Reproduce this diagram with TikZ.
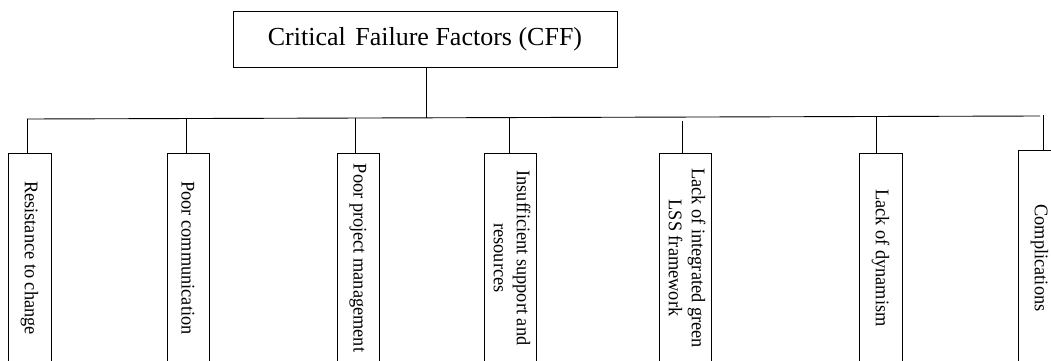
\documentclass[tikz,border=0pt]{standalone}
\usepackage{fontspec}
\setmainfont{Liberation Serif}
\newfontfamily\labelfont[FakeStretch=0.95]{Liberation Serif}

\begin{document}
\begin{tikzpicture}[x=1pt,y=-1pt,line width=0.9pt,
  every node/.style={inner sep=0pt},
  titlebox/.style={draw, minimum width=384pt, minimum height=56pt,
    font=\fontsize{26}{30}\selectfont},
  factorbox/.style={draw, minimum height=210pt,
    font=\labelfont\fontsize{19.3}{23}\selectfont},
  wire/.style={line width=0.9pt}]
\useasboundingbox (0,0) rectangle (1051,361);

% root of the tree
\node[titlebox] (cff) at (425,39) {Critical\kern3pt\ Failure Factors (CFF)};

% the seven failure factors, text running downwards
\node[factorbox, minimum width=43pt] (f1) at (29.5,258)
  {\rotatebox{-90}{Resistance to change}};
\node[factorbox, minimum width=42pt] (f2) at (188,258)
  {\rotatebox{-90}{Poor communication}};
\node[factorbox, minimum width=42pt] (f3) at (358,258)
  {\rotatebox{-90}{Poor project management}};
\node[factorbox, minimum width=52pt] (f4) at (510,258)
  {\rotatebox{-90}{\begin{tabular}{@{}c@{}}Insufficient support and\\resources\end{tabular}}};
\node[factorbox, minimum width=52pt] (f5) at (685,258)
  {\rotatebox{-90}{\begin{tabular}{@{}c@{}}Lack of integrated green\\LSS framework\end{tabular}}};
\node[factorbox, minimum width=43pt] (f6) at (880.5,258)
  {\rotatebox{-90}{Lack of dynamism}};
\node[factorbox, minimum width=43pt, minimum height=216pt] (f7) at (1039.5,258)
  {\rotatebox{-90}{Complications}};

% horizontal bus and the drop points on it
\coordinate (busL) at (27,119);
\coordinate (busR) at (1040,116);
\coordinate (bus) at (426,118);
\coordinate (b1) at (27,119);
\coordinate (b2) at (186,118.5);
\coordinate (b3) at (355,118.2);
\coordinate (b4) at (509,117.5);
\coordinate (b5) at (682,121);
\coordinate (b6) at (876,116.5);
\coordinate (b7) at (1043,115);

\draw[wire] (busL) -- (busR);
\draw[wire] (cff.south -| bus) -- (bus);
\draw[wire] (b1) -- (b1 |- f1.north);
\draw[wire] (b2) -- (b2 |- f2.north);
\draw[wire] (b3) -- (b3 |- f3.north);
\draw[wire] (b4) -- (b4 |- f4.north);
\draw[wire] (b5) -- (b5 |- f5.north);
\draw[wire] (b6) -- (b6 |- f6.north);
\draw[wire] (b7) -- (b7 |- f7.north);
\end{tikzpicture}
\end{document}
